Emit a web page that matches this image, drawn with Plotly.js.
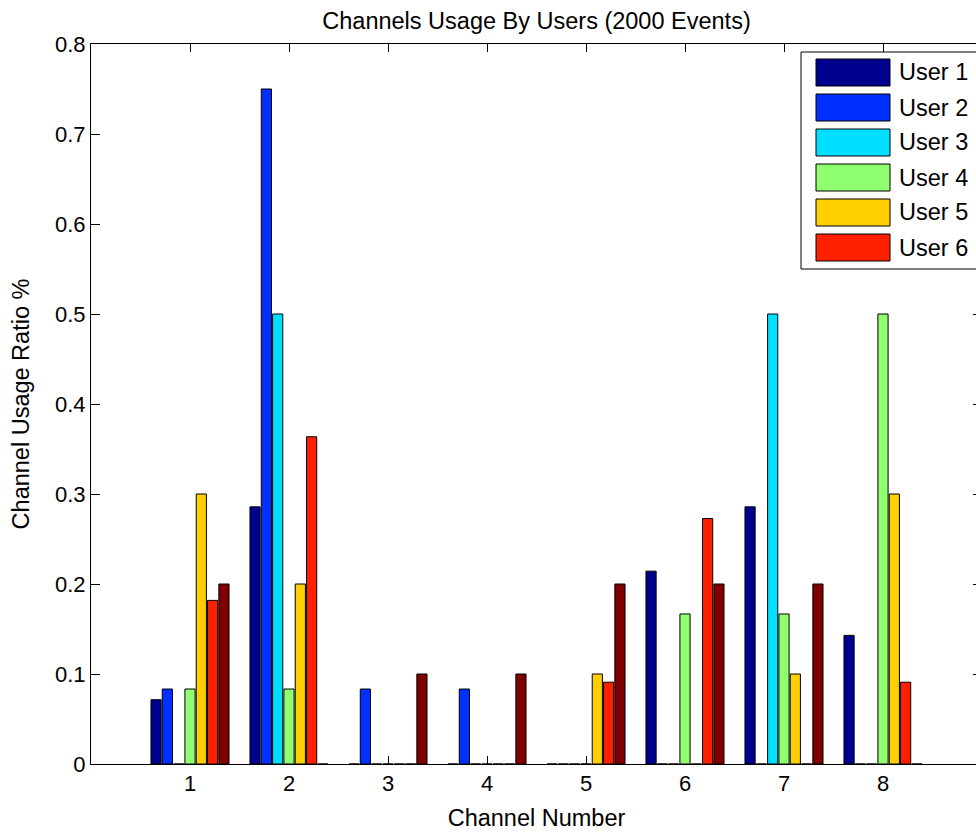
<!DOCTYPE html>
<html>
<head>
<meta charset="utf-8">
<script src="https://cdn.plot.ly/plotly-3.0.1.min.js"></script>
<style>
  html, body { margin: 0; padding: 0; overflow: hidden; background: #ffffff; }
  #chart { width: 983px; height: 834px; }
</style>
</head>
<body>
<div id="chart"></div>
<script>
// ---- Data ----
const categories = [1, 2, 3, 4, 5, 6, 7, 8];
const tickLabels = ['1', '2', '3', '4', '5', '6', '7', '8'];
const user1 = [0.0714, 0.2857, 0, 0, 0, 0.2143, 0.2857, 0.1429];
const user2 = [0.0833, 0.75, 0.0833, 0.0833, 0, 0, 0, 0];
const user3 = [0, 0.5, 0, 0, 0, 0, 0.5, 0];
const user4 = [0.0833, 0.0833, 0, 0, 0, 0.1667, 0.1667, 0.5];
const user5 = [0.3, 0.2, 0, 0, 0.1, 0, 0.1, 0.3];
const user6 = [0.1818, 0.3636, 0, 0, 0.0909, 0.2727, 0, 0.0909];
const user7 = [0.2, 0, 0.1, 0.1, 0.2, 0.2, 0.2, 0];
const seriesNames = ['User 1', 'User 2', 'User 3', 'User 4', 'User 5', 'User 6', 'User 7'];
const seriesColors = ['rgb(0,0,143)', 'rgb(0,48,255)', 'rgb(0,223,255)', 'rgb(143,255,112)',
                      'rgb(255,207,0)', 'rgb(255,32,0)', 'rgb(128,0,0)'];
const legendCount = 6; // only first six users appear in the legend

const seriesValues = [user1, user2, user3, user4, user5, user6, user7];

const FONT = 'Arial, "Liberation Sans", Helvetica, sans-serif';
const TITLE_SIZE = 23.5;

const traces = seriesValues.map((vals, i) => ({
  type: 'bar',
  name: seriesNames[i],
  x: categories,
  y: vals,
  marker: { color: seriesColors[i], line: { color: '#000000', width: 1 } },
  showlegend: false
}));

// plot area in pixels (used to place the hand-drawn MATLAB-style legend)
const M = { l: 91, r: 1, t: 44, b: 70 };
const W = 983, H = 834;
const PW = W - M.l - M.r, PH = H - M.t - M.b;
const px = x => (x - M.l) / PW;
const py = y => (H - M.b - y) / PH;

const shapes = [];
const annotations = [];
shapes.push({
  type: 'rect', xref: 'paper', yref: 'paper',
  x0: px(801), x1: px(992), y0: py(269), y1: py(52),
  fillcolor: '#ffffff', line: { color: '#000000', width: 1 }, layer: 'above'
});
for (let i = 0; i < legendCount; i++) {
  const cy = 72.5 + 35 * i;
  shapes.push({
    type: 'rect', xref: 'paper', yref: 'paper',
    x0: px(816), x1: px(890), y0: py(cy + 13.5), y1: py(cy - 13.5),
    fillcolor: seriesColors[i], line: { color: '#000000', width: 1 }, layer: 'above'
  });
  annotations.push({
    xref: 'paper', yref: 'paper', x: px(897), y: py(cy),
    xanchor: 'left', yanchor: 'middle', showarrow: false,
    text: seriesNames[i], font: { family: FONT, size: TITLE_SIZE, color: '#000000' }
  });
}

const layout = {
  width: W, height: H,
  margin: M,
  paper_bgcolor: '#ffffff', plot_bgcolor: '#ffffff',
  barmode: 'group', bargap: 0.2, bargroupgap: 0.1,
  showlegend: false,
  font: { family: FONT, size: 22, color: '#000000' },
  title: {
    text: 'Channels Usage By Users (2000 Events)',
    font: { family: FONT, size: TITLE_SIZE, color: '#000000' },
    x: 0.5, xref: 'paper', xanchor: 'center',
    y: 1 - 21 / H, yref: 'container', yanchor: 'middle'
  },
  xaxis: {
    range: [0, 9], tickmode: 'array', tickvals: categories, ticktext: tickLabels,
    ticks: 'inside', ticklen: 8, tickcolor: '#000000', tickwidth: 1,
    showline: true, linecolor: '#000000', linewidth: 1, mirror: 'ticks',
    showgrid: false, zeroline: false, layer: 'below traces',
    tickfont: { family: FONT, size: 22, color: '#000000' },
    title: { text: 'Channel Number', font: { family: FONT, size: TITLE_SIZE, color: '#000000' }, standoff: 14 },
    automargin: false, fixedrange: true
  },
  yaxis: {
    range: [0, 0.8], tickmode: 'linear', tick0: 0, dtick: 0.1,
    ticks: 'inside', ticklen: 9, tickcolor: '#000000', tickwidth: 1,
    showline: true, linecolor: '#000000', linewidth: 1, mirror: 'ticks',
    showgrid: false, zeroline: false, layer: 'below traces',
    tickfont: { family: FONT, size: 22, color: '#000000' },
    title: { text: 'Channel Usage Ratio %', font: { family: FONT, size: TITLE_SIZE, color: '#000000' }, standoff: 18 },
    automargin: false, fixedrange: true
  },
  shapes: shapes,
  annotations: annotations
};

Plotly.newPlot('chart', traces, layout, { staticPlot: true, displayModeBar: false });
</script>
</body>
</html>
